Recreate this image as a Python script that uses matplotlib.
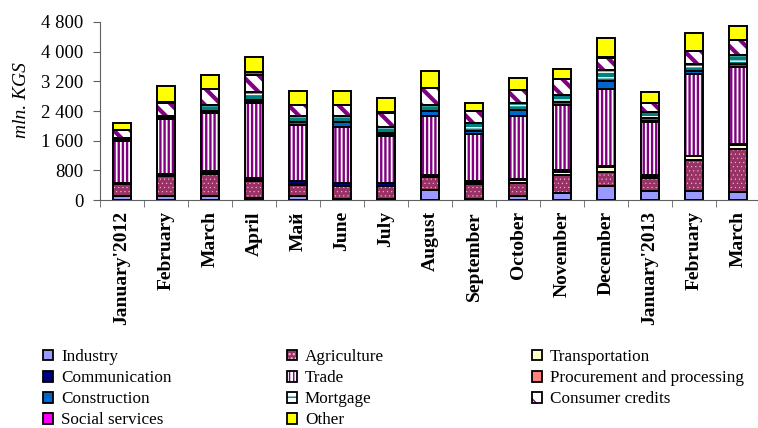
import numpy as np
import matplotlib as mpl
import matplotlib.pyplot as plt
from matplotlib.patches import Patch
from matplotlib.ticker import FuncFormatter

# --- данные (млн сом), снизу вверх по стеку ---
months = ["January'2012", "February", "March", "April", "Май", "June", "July",
          "August", "September", "October", "November", "December",
          "January'2013", "February", "March"]

industry       = [110, 100, 110, 60, 120, 20, 20, 270, 15, 120, 180, 365, 255, 255, 225]
agriculture    = [310, 540, 600, 450, 290, 345, 345, 350, 420, 350, 485, 380, 335, 835, 1160]
transportation = [15, 30, 20, 20, 30, 20, 20, 20, 30, 60, 80, 135, 30, 90, 100]
communication  = [20, 30, 40, 60, 60, 70, 70, 40, 35, 30, 75, 30, 60, 20, 15]
trade          = [1130, 1480, 1580, 2030, 1520, 1505, 1275, 1580, 1275, 1700, 1730, 2075, 1430, 2185, 2075]
procurement    = [10, 10, 10, 10, 10, 10, 40, 10, 10, 10, 10, 10, 10, 10, 10]
construction   = [40, 20, 40, 70, 80, 140, 50, 130, 85, 160, 80, 215, 80, 80, 85]
mortgage       = [50, 60, 160, 200, 160, 160, 140, 170, 205, 180, 180, 290, 165, 185, 250]
consumer       = [200, 340, 420, 460, 290, 280, 390, 450, 325, 350, 430, 340, 245, 345, 385]
social         = [10, 20, 20, 80, 10, 10, 10, 10, 10, 10, 10, 10, 10, 10, 10]
other          = [190, 450, 380, 410, 370, 380, 390, 455, 200, 315, 270, 510, 285, 490, 390]

# (название, значения, заливка, штриховка, цвет штриховки, толщина штриховки)
series = [
    ('Industry', industry, '#9999FF', None, '#9999FF', 1),
    ('Agriculture', agriculture, '#993366', '....', '#E8C8D8', 0.3),
    ('Transportation', transportation, '#FFFFCC', None, '#FFFFCC', 1),
    ('Communication', communication, '#000080', None, '#000080', 1),
    ('Trade', trade, 'white', '||||', '#800080', 1.7),
    ('Procurement and processing', procurement, '#FF8080', None, '#FF8080', 1),
    ('Construction', construction, '#0066CC', None, '#0066CC', 1),
    ('Mortgage', mortgage, 'white', '---', '#008080', 3.0),
    ('Consumer credits', consumer, 'white', '\\\\', '#800080', 3.0),
    ('Social services', social, '#FF00FF', None, '#FF00FF', 1),
    ('Other', other, '#FFFF00', None, '#FFFF00', 1),
]

plt.rcParams['font.family'] = ['Liberation Serif', 'DejaVu Serif']


def hatched(artists, lw):
    for a in artists:
        if hasattr(a, 'set_hatch_linewidth'):
            a.set_hatch_linewidth(lw)


fig = plt.figure(figsize=(7.58, 4.28), dpi=100)
ax = fig.add_axes([100 / 758, 1 - 200 / 428, 660 / 758, 178 / 428])

x = np.arange(len(months))
width = 0.42
bottom = np.zeros(len(months))
handles = []
for name, vals, face, hatch, hcol, hlw in series:
    vals = np.array(vals, dtype=float)
    with mpl.rc_context({'hatch.linewidth': hlw}):
        # заливка со штриховкой
        bars = ax.bar(x, vals, width, bottom=bottom, color=face, hatch=hatch,
                      edgecolor=hcol, linewidth=0, zorder=2)
        h_fill = Patch(facecolor=face, hatch=hatch, edgecolor=hcol, linewidth=0)
    hatched(list(bars) + [h_fill], hlw)
    # чёрная рамка сегмента
    ax.bar(x, vals, width, bottom=bottom, fill=False,
           edgecolor='black', linewidth=1.4, zorder=3)
    handles.append((h_fill, Patch(fill=False, edgecolor='black', linewidth=1.3)))
    bottom += vals

ax.set_xlim(-0.5, len(months) - 0.5)
ax.set_ylim(0, 4800)
ax.set_yticks(np.arange(0, 4801, 800))
ax.yaxis.set_major_formatter(FuncFormatter(lambda v, p: f'{v:,.0f}'.replace(',', ' ')))
ax.tick_params(axis='y', labelsize=13.5, length=5, color='#606060', pad=7)

ax.set_xticks(x)
ax.set_xticklabels(months, rotation=90, fontsize=14, fontweight='bold')
ax.tick_params(axis='x', length=0, pad=8)
ax.set_xticks(np.arange(-0.5, len(months), 1), minor=True)
ax.tick_params(axis='x', which='minor', length=5, color='#606060')

for s in ['top', 'right']:
    ax.spines[s].set_visible(False)
for s in ['left', 'bottom']:
    ax.spines[s].set_color('#606060')

ax.set_ylabel('mln. KGS', fontsize=14, fontstyle='italic')
ax.yaxis.set_label_coords(-70 / 660, 0.56)

# --- легенда: три колонки ---
labels = [s[0] for s in series]
cols = [[0, 3, 6, 9], [1, 4, 7, 10], [2, 5, 8]]
xpos = [43, 287, 532]
for c, xp in zip(cols, xpos):
    fig.legend([handles[i] for i in c], [labels[i] for i in c],
               loc='upper left', bbox_to_anchor=(xp / 758, 1 - 349 / 428),
               frameon=False, fontsize=12.3, handlelength=0.6, handleheight=0.6,
               handletextpad=0.45, labelspacing=0.3, borderpad=0, borderaxespad=0)

fig.savefig('out.png', dpi=100)
